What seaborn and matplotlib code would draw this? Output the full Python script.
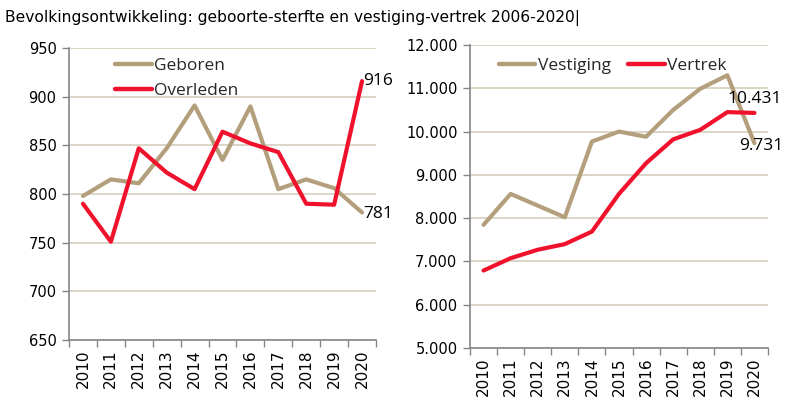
import matplotlib
matplotlib.use("Agg")
import matplotlib.pyplot as plt
import seaborn as sns
import pandas as pd
from matplotlib.ticker import FuncFormatter, FixedLocator
from matplotlib.lines import Line2D

years = [2010, 2011, 2012, 2013, 2014, 2015, 2016, 2017, 2018, 2019, 2020]
geboren = [798, 815, 811, 847, 891, 835, 890, 805, 815, 806, 781]
overleden = [790, 751, 847, 822, 805, 864, 852, 843, 790, 789, 916]
vestiging = [7846, 8560, 8290, 8020, 9770, 10000, 9880, 10500, 10990, 11300, 9731]
vertrek = [6790, 7075, 7270, 7400, 7690, 8560, 9270, 9820, 10040, 10450, 10431]

title = "Bevolkingsontwikkeling: geboorte-sterfte en vestiging-vertrek 2006-2020|"

TAN = "#B49F7C"
RED = "#F0122D"
GRID = "#D6CEBF"
SPINE = "#868686"

sns.set_theme(style="white")
plt.rcParams['font.family'] = ['DejaVu Sans']

fig = plt.figure(figsize=(8, 4.18), dpi=100)
ax1 = fig.add_axes([69/800, 1-340/418, (376-69)/800, (340-48)/418])
ax2 = fig.add_axes([470/800, 1-348/418, (768-470)/800, (348-45)/418])

idx = list(range(len(years)))
df1 = pd.DataFrame({"x": idx * 2, "v": geboren + overleden,
                    "s": ["Geboren"] * len(years) + ["Overleden"] * len(years)})
df2 = pd.DataFrame({"x": idx * 2, "v": vestiging + vertrek,
                    "s": ["Vestiging"] * len(years) + ["Vertrek"] * len(years)})

sns.lineplot(data=df1, x="x", y="v", hue="s", palette=[TAN, RED], ax=ax1,
             linewidth=3.0, legend=False)
sns.lineplot(data=df2, x="x", y="v", hue="s", palette=[TAN, RED], ax=ax2,
             linewidth=3.0, legend=False)


def style(ax, lo, hi, step, fmt):
    ax.set_xlim(-0.5, len(years) - 0.5)
    ax.set_ylim(lo, hi)
    ax.set_yticks(list(range(lo, hi + 1, step)))
    ax.yaxis.set_major_formatter(FuncFormatter(fmt))
    ax.set_xticks(idx)
    ax.set_xticklabels([str(y) for y in years], rotation=90)
    ax.xaxis.set_minor_locator(FixedLocator([i - 0.5 for i in range(len(years) + 1)]))
    ax.tick_params(axis="x", which="major", length=0, pad=7, labelsize=11, colors="black")
    ax.tick_params(axis="x", which="minor", length=5, width=1, color=SPINE, direction="out", bottom=True)
    ax.tick_params(axis="y", length=5, width=1, color=SPINE, direction="out", left=True,
                   labelsize=10.5, colors="black", pad=4)
    ax.grid(axis="y", color=GRID, linewidth=1.2)
    ax.grid(axis="x", visible=False)
    ax.set_axisbelow(True)
    for s in ["top", "right"]:
        ax.spines[s].set_visible(False)
    for s in ["left", "bottom"]:
        ax.spines[s].set_color(SPINE)
        ax.spines[s].set_linewidth(1.2)
    ax.set_xlabel("")
    ax.set_ylabel("")


style(ax1, 650, 950, 50, lambda v, p: f"{int(v)}")
style(ax2, 5000, 12000, 1000, lambda v, p: f"{int(v):,}".replace(",", "."))

# Legends
h1 = [Line2D([0], [0], color=TAN, lw=3.2), Line2D([0], [0], color=RED, lw=3.2)]
lp = {"family": "Open Sans", "size": 12.5}
ax1.legend(h1, ["Geboren", "Overleden"], loc="upper left", bbox_to_anchor=(0.15, 0.965),
           frameon=False, handlelength=2.1, handletextpad=0.15, borderpad=0, borderaxespad=0,
           labelspacing=0.47, prop=lp)
ax2.legend(h1, ["Vestiging", "Vertrek"], loc="upper left", bbox_to_anchor=(0.097, 0.958),
           frameon=False, ncol=2, handlelength=2.1, handletextpad=0.15, borderpad=0,
           borderaxespad=0, columnspacing=1.0, prop=lp)

lab = {"family": "Open Sans", "size": 12.5, "color": "black"}
n = len(years) - 1
ax1.annotate(f"{overleden[-1]}", (n, overleden[-1]), xytext=(1, 0), textcoords="offset points",
             ha="left", va="center", **lab)
ax1.annotate(f"{geboren[-1]}", (n, geboren[-1]), xytext=(1, -1), textcoords="offset points",
             ha="left", va="center", **lab)
ax2.annotate(f"{vertrek[-1]:,}".replace(",", "."), (n, vertrek[-1]), xytext=(0, 4),
             textcoords="offset points", ha="center", va="bottom", **lab)
ax2.annotate(f"{vestiging[-1]:,}".replace(",", "."), (n, vestiging[-1]), xytext=(5, -2),
             textcoords="offset points", ha="center", va="center", **lab)

fig.text(5/800, 1-22/418, title, ha="left", va="baseline", fontsize=11.2, color="black")

fig.savefig("out.png", dpi=100)
